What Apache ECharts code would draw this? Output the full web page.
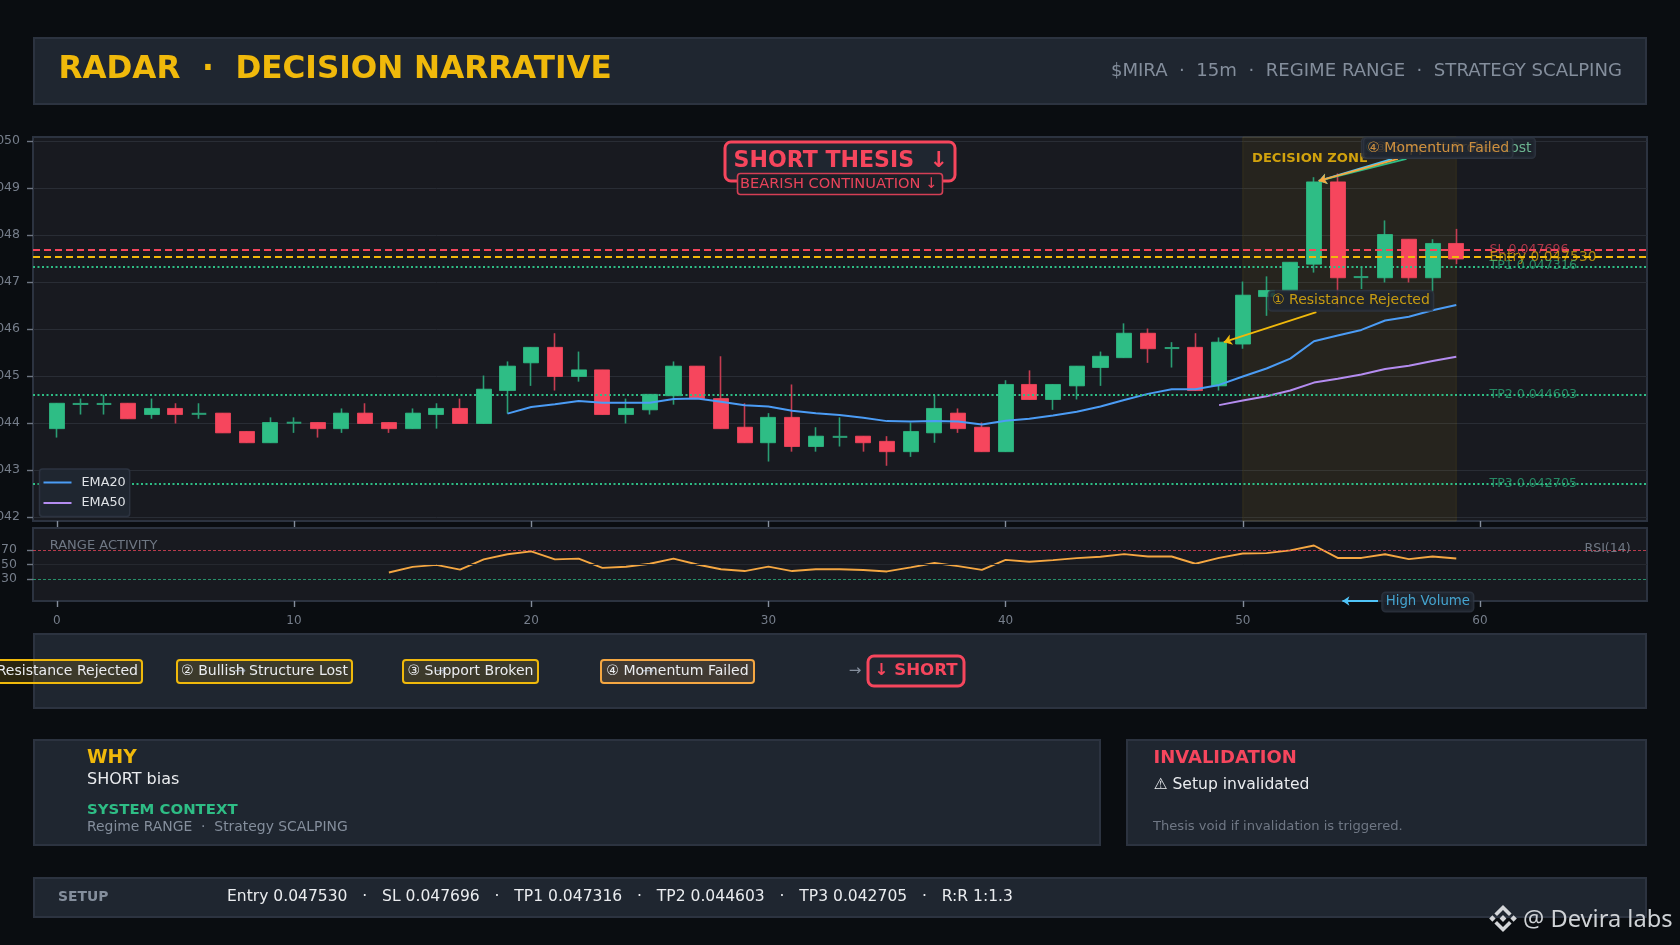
<!DOCTYPE html>
<html><head><meta charset="utf-8"><title>RADAR Decision Narrative</title>
<script src="https://cdn.jsdelivr.net/npm/echarts@6/dist/echarts.min.js"></script>
<style>html,body{margin:0;padding:0;background:#0a0d11}#c{width:1680px;height:945px}</style>
</head><body><div id="c"></div>
<script>
const opens=[.04388,.04440,.04440,.04442,.04418,.04431,.04419,.04421,.04382,.04358,.04400,.04401,.04388,.04421,.04401,.04388,.04418,.04431,.04399,.04469,.04528,.04561,.04499,.04513,.04418,.04428,.04458,.04521,.04452,.04391,.04358,.04412,.04350,.04370,.04372,.04361,.04339,.04379,.04421,.04391,.04339,.04482,.04450,.04479,.04518,.04539,.04591,.04559,.04561,.04479,.04568,.04669,.04682,.04738,.04913,.04710,.04709,.04791,.04709,.04782];
const closes=[.04442,.04441,.04441,.04409,.04431,.04418,.04420,.04379,.04358,.04401,.04401,.04388,.04421,.04399,.04388,.04421,.04431,.04399,.04472,.04521,.04561,.04499,.04513,.04418,.04431,.04461,.04521,.04452,.04388,.04358,.04412,.04350,.04372,.04371,.04358,.04339,.04382,.04431,.04388,.04339,.04482,.04450,.04482,.04521,.04542,.04591,.04558,.04560,.04469,.04572,.04672,.04682,.04742,.04913,.04709,.04711,.04801,.04709,.04782,.04749];
const lows=[.04369,.04418,.04418,.04409,.04409,.04399,.04409,.04379,.04358,.04358,.04379,.04369,.04379,.04399,.04379,.04388,.04388,.04399,.04399,.04420,.04479,.04469,.04488,.04418,.04399,.04418,.04439,.04452,.04388,.04358,.04318,.04339,.04339,.04350,.04339,.04309,.04328,.04358,.04379,.04339,.04339,.04450,.04428,.04450,.04479,.04539,.04528,.04518,.04469,.04469,.04558,.04628,.04682,.04720,.04646,.04685,.04699,.04699,.04680,.04738];
const highs=[.04442,.04452,.04460,.04442,.04452,.04442,.04442,.04421,.04382,.04412,.04412,.04401,.04431,.04442,.04401,.04431,.04442,.04452,.04501,.04531,.04561,.04591,.04552,.04513,.04452,.04461,.04531,.04521,.04542,.04442,.04421,.04482,.04391,.04412,.04372,.04372,.04401,.04460,.04431,.04401,.04491,.04512,.04482,.04521,.04552,.04612,.04601,.04572,.04591,.04582,.04701,.04712,.04742,.04923,.04931,.04732,.04831,.04791,.04791,.04813];
const ema20Start=19;
const ema20=[.04420,.04434,.04440,.04447,.04443,.04443,.04443,.04451,.04452,.04445,.04438,.04435,.04426,.04421,.04417,.04411,.04404,.04403,.04404,.04403,.04397,.04405,.04409,.04416,.04424,.04435,.04449,.04462,.04472,.04472,.04481,.04499,.04516,.04537,.04574,.04586,.04598,.04618,.04626,.04640,.04651];
const ema50Start=49;
const ema50=[.04438,.04448,.04457,.04469,.04486,.04494,.04503,.04515,.04522,.04532,.04541];
const rsiStart=14;
const rsi=[39,46.8,49.5,43,57,64,68,57,58,45.4,47,51,58,50,43.5,41,47,41,43.5,43.5,42.5,40.5,46,52,47.7,42.6,56.4,53.7,56,58.7,60.6,64.2,61,61,51,59,65,65.6,69.3,76,59,59,64,57.4,61,58.3];
const xTicks=[0,10,20,30,40,50,60];
const priceTicks=[.042,.043,.044,.045,.046,.047,.048,.049,.050];
const rsiTicks=[30,50,70];
const levelNames=['SL 0.047696','Entry 0.047530','TP1 0.047316','TP2 0.044603','TP3 0.042705'];
const levelValues=[.047696,.04753,.047316,.044603,.042705];
const levelColors=['#F6465D','#F0B90B','#2EBD85','#2EBD85','#2EBD85'];
const levelDash=[[7,4],[7,4],[2,2.5],[2,2.5],[2,2.5]];
const steps=['① Resistance Rejected','② Bullish Structure Lost','③ Support Broken','④ Momentum Failed'];

const UP='#2EBD85',DN='#F6465D',YEL='#F0B90B',ORG='#F5A742',BLU='#4FC3F7',TXT='#EAECEF',GRY='#848E9C';
const PANEL='#1f2630',EDGE='#2c3340',PLOT='#181a20';
const FF='"DejaVu Sans"';
const XMIN=-1.003,XMAX=67.04;

const idx=opens.map((_,i)=>i);
const isDoji=i=>Math.abs(opens[i]-closes[i])<.00002;
const full=idx.map(i=>[i,opens[i],closes[i],lows[i],highs[i]]);
const bodies=idx.filter(i=>!isDoji(i)).map(i=>[i,opens[i],closes[i],Math.min(opens[i],closes[i]),Math.max(opens[i],closes[i])]);
const dojis=idx.filter(isDoji).map(i=>[i,opens[i],closes[i],opens[i],closes[i]]);
const lineData=(arr,s)=>arr.map((v,i)=>[s+i,v]);

function note(text,x,y,color,border,extra){
  return {value:[x,y],label:Object.assign({show:true,position:'inside',formatter:text,color:color,fontFamily:FF,fontSize:14,
    backgroundColor:'#1f2630',borderColor:border||'#2f3744',borderWidth:1.5,borderRadius:3,padding:[3,3,2,3]},extra||{})};
}
function noteSeries(items,z,xi,yi){
  return {type:'scatter',xAxisIndex:xi||0,yAxisIndex:yi||0,symbol:'circle',symbolSize:1,itemStyle:{color:'transparent'},silent:true,z:z,clip:false,data:items,tooltip:{show:false}};
}
function arrow(x0,y0,x1,y1,color,w){
  return [{coord:[x0,y0],lineStyle:{color:color,width:w||1.8,type:'solid',opacity:1}},{coord:[x1,y1]}];
}
const levelLabels=levelNames.map((t,i)=>({value:[60,levelValues[i]],label:{show:true,position:'right',distance:9,formatter:t,color:levelColors[i],opacity:.68,
  fontFamily:FF,fontSize:i===1?13.8:12.6,offset:[0,i===2?-1:0]}}));

function panel(x,y,w,h,fill,stroke,lw,r){return {type:'rect',z:1,silent:true,shape:{x:x,y:y,width:w,height:h,r:r||0},style:{fill:fill||PANEL,stroke:stroke||EDGE,lineWidth:lw==null?2:lw}};}
function txt(s,x,y,font,fill,align,z){return {type:'text',z:z||2,silent:true,x:x,y:y+1.3,style:{text:s,font:font,fill:fill,textAlign:align||'left',textVerticalAlign:'middle'}};}
function poly(points,fill){return {type:'polygon',z:6,silent:true,shape:{points:points},style:{fill:fill}};}
const L=(cx,cy,pts)=>pts.map(p=>[cx+p[0],cy+p[1]]);
const LX=1503,LY=918.5,LOGO='#d3d5d8';

const graphics=[
 panel(34,38,1612,66),
 txt('RADAR  ·  DECISION NARRATIVE',58.5,69,'bold 31.1px '+FF,YEL),
 txt('$MIRA  ·  15m  ·  REGIME RANGE  ·  STRATEGY SCALPING',1622,69.5,'18.1px '+FF,GRY,'right'),
 panel(34,634,1612,74),
 txt('→',240,670,'14px '+FF,GRY,'center'),txt('→',440,670,'14px '+FF,GRY,'center'),txt('→',648,670,'14px '+FF,GRY,'center'),
 panel(-40,660,182,23,'rgba(240,185,11,.14)',YEL,2,3),
 txt(steps[0],138,670.5,'14.05px '+FF,TXT,'right',3),
 panel(177,660,175,23,'rgba(240,185,11,.14)',YEL,2,3),
 txt(steps[1],264.5,670.5,'14.05px '+FF,TXT,'center',3),
 panel(403,660,135,23,'rgba(240,185,11,.14)',YEL,2,3),
 txt(steps[2],470.5,670.5,'14.05px '+FF,TXT,'center',3),
 panel(601,660,153,23,'rgba(245,167,66,.16)',ORG,2,3),
 txt(steps[3],677.5,670.5,'14.05px '+FF,TXT,'center',3),
 txt('→',855,670,'15px '+FF,GRY,'center'),
 panel(868,656,96,30,'#1f2630',DN,3,6),
 txt('↓ SHORT',916,669.5,'bold 16.6px '+FF,DN,'center',3),
 panel(34,740,1066,105),
 txt('WHY',87,757,'bold 18.7px '+FF,YEL),
 txt('SHORT bias',87,779,'16px '+FF,TXT),
 txt('SYSTEM CONTEXT',87,809,'bold 14.9px '+FF,UP),
 txt('Regime RANGE  ·  Strategy SCALPING',87,826.5,'13.9px '+FF,GRY),
 panel(1127,740,519,105),
 txt('INVALIDATION',1153.5,757,'bold 18px '+FF,DN),
 txt('⚠ Setup invalidated',1153.5,783.5,'15.6px '+FF,TXT),
 txt('Thesis void if invalidation is triggered.',1153,825.5,'13.1px '+FF,'#6f7784'),
 panel(34,878,1612,39),
 txt('SETUP',58,896,'bold 13.9px '+FF,GRY),
 txt('Entry 0.047530   ·   SL 0.047696   ·   TP1 0.047316   ·   TP2 0.044603   ·   TP3 0.042705   ·   R:R 1:1.3',227,896,'15.55px '+FF,TXT),
 {type:'rect',z:10,silent:true,shape:{x:725,y:142,width:230,height:39,r:6},style:{fill:'#1f2630',stroke:DN,lineWidth:3}},
 txt('SHORT THESIS  ↓',733.5,159.5,'bold 22.1px '+FF,DN,'left',11),
 {type:'rect',z:12,silent:true,shape:{x:737.5,y:173.5,width:205,height:21,r:3},style:{fill:'#1c1f26',stroke:'#d43f55',lineWidth:1.6}},
 txt('BEARISH CONTINUATION ↓',740,182.5,'14.6px '+FF,'#e8435a','left',13),
 txt('@ Devira labs',1523,918.5,'23.65px "Noto Sans"','#cfd2d6','left',6),
 poly(L(LX,LY,[[0,-3.4],[3.4,0],[0,3.4],[-3.4,0]]),LOGO),
 poly(L(LX,LY,[[-10.6,-3.2],[-7.4,0],[-10.6,3.2],[-13.8,0]]),LOGO),
 poly(L(LX,LY,[[10.6,-3.2],[13.8,0],[10.6,3.2],[7.4,0]]),LOGO),
 poly(L(LX,LY,[[0,-13.6],[8.6,-5],[6,-2.6],[0,-8.4],[-6,-2.6],[-8.6,-5]]),LOGO),
 poly(L(LX,LY,[[0,13.6],[8.6,5],[6,2.6],[0,8.4],[-6,2.6],[-8.6,5]]),LOGO)
];

const xBase={type:'value',min:XMIN,max:XMAX,splitLine:{show:false},axisLine:{show:false,onZero:false}};
const yBase={type:'value',scale:true,axisLine:{show:false,onZero:false}};
const option={
 backgroundColor:'#0a0d11',animation:false,
 textStyle:{fontFamily:FF},
 grid:[
  {left:33,top:137,width:1614,height:384,show:true,backgroundColor:PLOT,borderColor:EDGE,borderWidth:2,outerBoundsMode:'none'},
  {left:33,top:528,width:1614,height:73,show:true,backgroundColor:PLOT,borderColor:EDGE,borderWidth:2,outerBoundsMode:'none'}
 ],
 xAxis:[
  Object.assign({},xBase,{gridIndex:0,axisTick:{customValues:xTicks,length:6,lineStyle:{color:GRY,width:1.4}},axisLabel:{show:false}}),
  Object.assign({},xBase,{gridIndex:1,axisTick:{customValues:xTicks,length:6,lineStyle:{color:GRY,width:1.4}},axisLabel:{customValues:xTicks,color:'#767e8b',fontSize:12,margin:14}})
 ],
 yAxis:[
  Object.assign({},yBase,{gridIndex:0,min:.041915,max:.050085,axisTick:{customValues:priceTicks,length:6,lineStyle:{color:'#6f7784',width:1.4}},
    axisLabel:{customValues:priceTicks,formatter:v=>v.toFixed(3),color:'#767e8b',fontSize:12.5,margin:13},splitLine:{show:true,lineStyle:{color:'#292d35',width:1}}}),
  Object.assign({},yBase,{gridIndex:1,min:0,max:100,axisTick:{customValues:rsiTicks,length:6,lineStyle:{color:'#6f7784',width:1.4}},
    axisLabel:{customValues:rsiTicks,color:'#767e8b',fontSize:12.5,margin:16,padding:[2,0,0,0]},splitLine:{show:false}})
 ],
 legend:{data:['EMA20','EMA50'],icon:'rect',orient:'vertical',left:39.5,top:469,padding:[7,4,7,4],itemWidth:28,itemHeight:2,itemGap:7.5,
   backgroundColor:'#1f2630',borderColor:'#2c3340',borderWidth:1.5,borderRadius:3,selectedMode:false,z:20,
   textStyle:{color:'#dfe2e6',fontSize:12.8,fontFamily:FF,padding:[0,0,0,5]}},
 graphic:{elements:graphics},
 series:[
  {type:'line',name:'zone',xAxisIndex:0,yAxisIndex:0,data:[],silent:true,z:1,
   markArea:{silent:true,itemStyle:{color:'rgba(240,185,11,.065)',borderColor:'rgba(240,185,11,.1)',borderWidth:1},data:[[{xAxis:50},{xAxis:59}]]}},
  {type:'candlestick',name:'wicks',xAxisIndex:0,yAxisIndex:0,barWidth:.4,silent:true,z:2,data:full,
   itemStyle:{color:'transparent',color0:'transparent',borderColor:'#2a9d74',borderColor0:'#c63c51',borderWidth:1.6}},
  {type:'candlestick',name:'dojis',xAxisIndex:0,yAxisIndex:0,barWidth:13.6,silent:true,z:2,data:dojis,
   itemStyle:{color:'#2a9d74',color0:'#2a9d74',borderColor:'#2a9d74',borderColor0:'#2a9d74',borderWidth:1.6}},
  {type:'candlestick',name:'bodies',xAxisIndex:0,yAxisIndex:0,barWidth:15.6,silent:true,z:3,data:bodies,
   itemStyle:{color:UP,color0:DN,borderColor:UP,borderColor0:DN,borderWidth:.8}},
  {type:'line',name:'EMA20',xAxisIndex:0,yAxisIndex:0,data:lineData(ema20,ema20Start),symbol:'none',silent:true,z:4,itemStyle:{color:'#4b9cf5'},lineStyle:{color:'#4b9cf5',width:2}},
  {type:'line',name:'EMA50',xAxisIndex:0,yAxisIndex:0,data:lineData(ema50,ema50Start),symbol:'none',silent:true,z:4,itemStyle:{color:'#b48cf0'},lineStyle:{color:'#b48cf0',width:2}},
  {type:'line',name:'levels',xAxisIndex:0,yAxisIndex:0,data:[],silent:true,z:5,
   markLine:{silent:true,symbol:'none',label:{show:false},data:levelValues.map((v,i)=>[{coord:[XMIN,v],lineStyle:{color:levelColors[i],type:levelDash[i],width:2,opacity:1}},{coord:[XMAX,v]}])}},
  {type:'line',name:'arrows',xAxisIndex:0,yAxisIndex:0,data:[],silent:true,z:6,
   markLine:{silent:true,symbol:['none','arrow'],symbolSize:8,label:{show:false},data:[
     arrow(53.1,.04636,49.2,.04572,YEL),
     arrow(56.3,.04962,53.2,.04915,BLU),
     arrow(56.9,.04962,53.2,.04915,UP),
     arrow(56.54,.04962,53.2,.04915,ORG)
   ]}},
  noteSeries(levelLabels,7),
  noteSeries([{value:[52.83,.04963],label:{show:true,position:'inside',formatter:'DECISION ZONE',color:YEL,opacity:.85,fontFamily:FF,fontWeight:'bold',fontSize:13.1}}],8),
  noteSeries([note(steps[1],58.67,.04985,'#7fd8a9'),note(steps[2],58.2,.04985,ORG)],9),
  noteSeries([note(steps[3],58.24,.04985,ORG)],10),
  noteSeries([note(steps[0],54.56,.0466,YEL)],11),
  {type:'line',name:'RSI',xAxisIndex:1,yAxisIndex:1,data:lineData(rsi,rsiStart),symbol:'none',silent:true,z:4,lineStyle:{color:ORG,width:1.9},
   markLine:{silent:true,symbol:'none',label:{show:false},data:[
     {yAxis:70,lineStyle:{color:'rgba(246,70,93,.72)',type:[3,2],width:1}},
     {yAxis:50,lineStyle:{color:'#25282f',type:'solid',width:1}},
     {yAxis:30,lineStyle:{color:'rgba(46,189,133,.72)',type:[3,2],width:1}}]}},
  {type:'line',name:'volArrow',xAxisIndex:1,yAxisIndex:1,data:[],silent:true,z:6,
   markLine:{silent:true,symbol:['none','arrow'],symbolSize:7,label:{show:false},data:[arrow(55.7,0,54.2,0,BLU)]}},
  noteSeries([
    {value:[-.32,76],label:{show:true,position:'right',distance:0,formatter:'RANGE ACTIVITY',color:GRY,fontFamily:FF,fontSize:13}},
    {value:[64.38,72],label:{show:true,position:'right',distance:0,formatter:'RSI(14)',color:GRY,fontFamily:FF,fontSize:12.6}}
  ],7,1,1),
  noteSeries([note('High Volume',57.8,0,'#4fc3f7','#2f3744',{fontSize:13.3,offset:[0,1]})],11,1,1)
 ]
};
const chart=echarts.init(document.getElementById('c'),null,{renderer:'canvas',width:1680,height:945});
chart.setOption(option);
</script></body></html>
